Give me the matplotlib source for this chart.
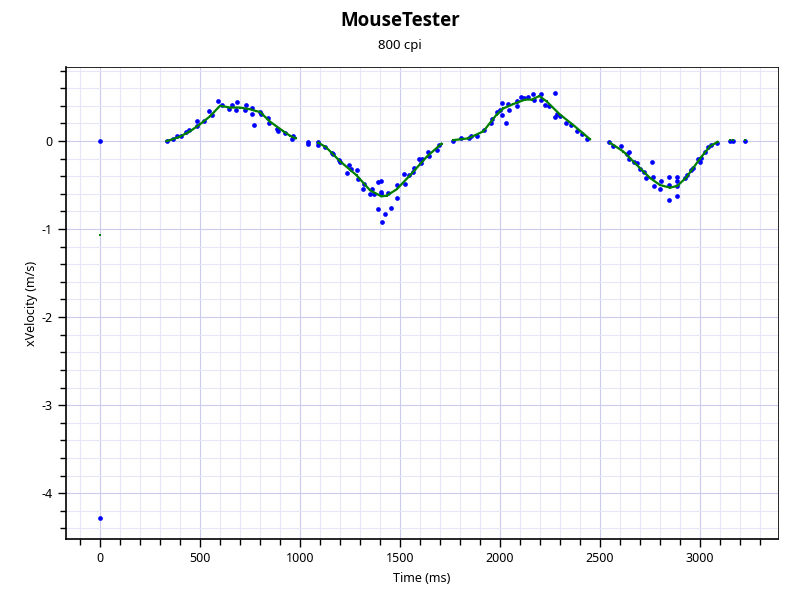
import numpy as np
import matplotlib
matplotlib.use("Agg")
import matplotlib.pyplot as plt
from matplotlib.ticker import MultipleLocator

plt.rcParams['font.family'] = ['Noto Sans', 'DejaVu Sans']
plt.rcParams['axes.unicode_minus'] = False

# raw samples (blue dots)
raw_t = [0, 0,
         333, 363, 383, 403, 428, 445, 483, 483, 521, 547, 560, 590, 610, 643, 658, 685, 681,
         723, 730, 762, 762, 768, 798, 803, 842, 843, 883, 888, 925, 962, 963,
         1040, 1042, 1088, 1090, 1127, 1162, 1165, 1197, 1202, 1237, 1243, 1255, 1283, 1292,
         1317, 1322, 1350, 1362, 1372, 1392, 1392, 1403, 1405, 1407, 1408, 1425, 1442, 1455,
         1483, 1485, 1518, 1525, 1545, 1563, 1570, 1595, 1603, 1610, 1640, 1647, 1683, 1695,
         1767, 1803, 1845, 1855, 1883, 1922, 1955, 1958, 1983, 2000, 2008, 2012, 2030, 2042,
         2047, 2083, 2085, 2105, 2122, 2138, 2163, 2168, 2203, 2203, 2227, 2245, 2275, 2275,
         2283, 2300, 2330, 2353, 2383, 2408, 2433,
         2545, 2567, 2603, 2633, 2643, 2643, 2670, 2683, 2700, 2720, 2730, 2760, 2767, 2770,
         2802, 2803, 2843, 2845, 2845, 2883, 2885, 2885, 2883, 2925, 2933, 2953, 2967, 2990,
         3000, 3003, 3025, 3042, 3053, 3083, 3150, 3163, 3225]
raw_v = [0.0, -4.28,
         0.0, 0.02, 0.06, 0.06, 0.10, 0.12, 0.23, 0.17, 0.23, 0.34, 0.29, 0.45, 0.41, 0.36, 0.41, 0.44, 0.35,
         0.35, 0.41, 0.37, 0.31, 0.18, 0.33, 0.31, 0.26, 0.20, 0.14, 0.11, 0.09, 0.02, 0.06,
         -0.01, -0.03, -0.01, -0.05, -0.07, -0.14, -0.15, -0.22, -0.24, -0.36, -0.27, -0.32, -0.33, -0.43,
         -0.55, -0.49, -0.60, -0.54, -0.60, -0.47, -0.77, -0.58, -0.60, -0.45, -0.92, -0.83, -0.59, -0.76,
         -0.50, -0.65, -0.37, -0.49, -0.39, -0.35, -0.31, -0.21, -0.25, -0.21, -0.13, -0.17, -0.10, -0.04,
         0.00, 0.03, 0.03, 0.06, 0.06, 0.13, 0.20, 0.25, 0.33, 0.35, 0.30, 0.43, 0.20, 0.42,
         0.35, 0.45, 0.40, 0.50, 0.49, 0.50, 0.53, 0.46, 0.53, 0.47, 0.41, 0.40, 0.54, 0.27,
         0.31, 0.28, 0.20, 0.18, 0.11, 0.08, 0.02,
         -0.01, -0.06, -0.06, -0.15, -0.13, -0.20, -0.24, -0.25, -0.32, -0.35, -0.42, -0.24, -0.41, -0.51,
         -0.55, -0.45, -0.50, -0.41, -0.67, -0.41, -0.46, -0.51, -0.63, -0.42, -0.39, -0.33, -0.31, -0.20,
         -0.24, -0.19, -0.13, -0.07, -0.05, -0.02, 0.0, 0.0, 0.0]

# smoothed velocity (green), nan = gap between strokes
smooth_t = [0, np.nan,
            333, 350, 400, 450, 500, 550, 600, 650, 700, 750, 780, 800, 850, 917, 950, 978, np.nan,
            1092, 1130, 1200, 1283, 1350, 1408, 1433, 1483, 1550, 1633, 1708, np.nan,
            1767, 1842, 1917, 1983, 2017, 2067, 2125, 2158, 2197, 2233, 2300, 2367, 2450, np.nan,
            2550, 2617, 2683, 2750, 2800, 2850, 2887, 2933, 3000, 3050, 3088, np.nan,
            3150, np.nan, 3163, np.nan, 3225]
smooth_v = [-1.07, np.nan,
            0.0, 0.01, 0.05, 0.11, 0.19, 0.28, 0.40, 0.38, 0.38, 0.36, 0.34, 0.33, 0.22, 0.11, 0.06, 0.03, np.nan,
            -0.02, -0.07, -0.23, -0.39, -0.56, -0.63, -0.62, -0.55, -0.39, -0.18, -0.03, np.nan,
            0.01, 0.03, 0.11, 0.30, 0.37, 0.42, 0.47, 0.47, 0.51, 0.45, 0.30, 0.18, 0.02, np.nan,
            -0.02, -0.12, -0.27, -0.42, -0.50, -0.53, -0.51, -0.41, -0.20, -0.06, -0.01, np.nan,
            0.01, np.nan, 0.01, np.nan, 0.01]

fig = plt.figure(figsize=(8, 6), dpi=100)
ax = fig.add_axes([0.0825, 0.1017, 0.89, 0.7866])

ax.plot(raw_t, raw_v, "o", color="#0000ff", markersize=3.4, markeredgewidth=0, zorder=3)
ax.plot(smooth_t, smooth_v, "-", color="#008000", linewidth=1.6, marker="s", markersize=1.8,
        markeredgewidth=0, zorder=4)

ax.set_xlim(-170, 3390)
ax.set_ylim(-4.52, 0.84)
ax.xaxis.set_major_locator(MultipleLocator(500))
ax.xaxis.set_minor_locator(MultipleLocator(100))
ax.yaxis.set_major_locator(MultipleLocator(1))
ax.yaxis.set_minor_locator(MultipleLocator(0.2))
ax.grid(which="major", color="#cbcbee", linewidth=0.8)
ax.grid(which="minor", color="#e6e6f8", linewidth=0.8)
ax.set_axisbelow(True)
ax.tick_params(which="major", direction="out", length=6, width=1, labelsize=9, colors="black")
ax.tick_params(which="minor", direction="out", length=4, width=1)
for s in ax.spines.values():
    s.set_color("black")
    s.set_linewidth(0.6)
ax.spines["left"].set_linewidth(1.2)
ax.spines["bottom"].set_linewidth(1.2)

ax.set_xlabel("Time (ms)", fontsize=9, labelpad=5)
ax.set_ylabel("xVelocity (m/s)", fontsize=9, labelpad=3)

fig.text(0.5, 0.965, "MouseTester", ha="center", va="center", fontsize=13.5, fontweight="bold",
         family=["Open Sans", "DejaVu Sans"])
fig.text(0.5, 0.925, "800 cpi", ha="center", va="center", fontsize=9.5)

fig.savefig("out.png", dpi=100)
